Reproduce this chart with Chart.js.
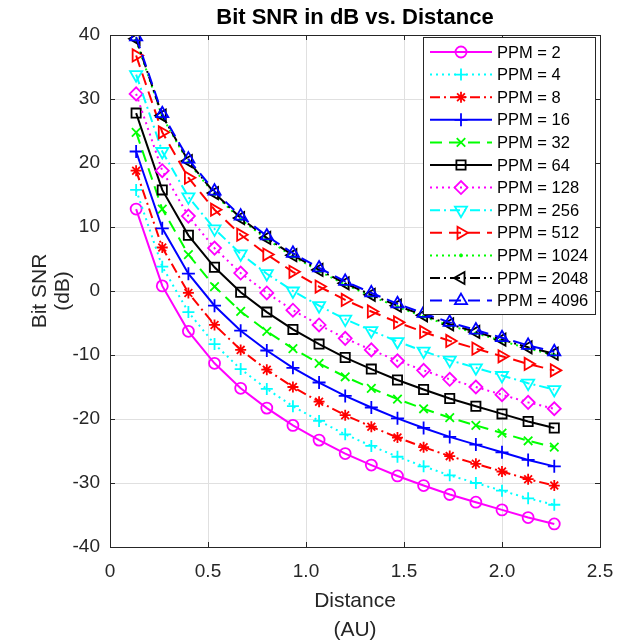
<!DOCTYPE html>
<html>
<head>
<meta charset="utf-8">
<script src="https://cdn.jsdelivr.net/npm/chart.js@4.4.0/dist/chart.umd.min.js"></script>
<style>
  html, body { margin: 0; padding: 0; background: #fff; }
</style>
</head>
<body>
<canvas id="snrChart" width="618" height="643"></canvas>
<script>
// distance in AU
const distance = [0.1333, 0.2667, 0.4, 0.5333, 0.6667, 0.8, 0.9333, 1.0667, 1.2, 1.3333, 1.4667, 1.6, 1.7333, 1.8667, 2.0, 2.1333, 2.2667];

// bit SNR (dB) per PPM order
const ppm2    = [12.8, 0.8, -6.3, -11.3, -15.2, -18.3, -21.0, -23.3, -25.4, -27.2, -28.9, -30.4, -31.8, -33.0, -34.2, -35.4, -36.4];
const ppm4    = [15.8, 3.8, -3.3, -8.3, -12.2, -15.3, -18.0, -20.3, -22.4, -24.2, -25.9, -27.4, -28.8, -30.0, -31.2, -32.4, -33.4];
const ppm8    = [18.8, 6.8, -0.3, -5.3, -9.2, -12.3, -15.0, -17.3, -19.4, -21.2, -22.9, -24.4, -25.8, -27.0, -28.2, -29.4, -30.4];
const ppm16   = [21.8, 9.8, 2.7, -2.3, -6.2, -9.3, -12.0, -14.3, -16.4, -18.2, -19.9, -21.4, -22.8, -24.0, -25.2, -26.4, -27.4];
const ppm32   = [24.8, 12.8, 5.7, 0.7, -3.2, -6.3, -9.0, -11.3, -13.4, -15.2, -16.9, -18.4, -19.8, -21.0, -22.2, -23.4, -24.4];
const ppm64   = [27.8, 15.8, 8.7, 3.7, -0.2, -3.3, -6.0, -8.3, -10.4, -12.2, -13.9, -15.4, -16.8, -18.0, -19.2, -20.4, -21.4];
const ppm128  = [30.8, 18.8, 11.7, 6.7, 2.8, -0.3, -3.0, -5.3, -7.4, -9.2, -10.9, -12.4, -13.8, -15.0, -16.2, -17.4, -18.4];
const ppm256  = [33.8, 21.8, 14.7, 9.7, 5.8, 2.7, 0.0, -2.3, -4.4, -6.2, -7.9, -9.4, -10.8, -12.0, -13.2, -14.4, -15.4];
const ppm512  = [36.8, 24.8, 17.7, 12.7, 8.8, 5.7, 3.0, 0.7, -1.4, -3.2, -4.9, -6.4, -7.8, -9.0, -10.2, -11.4, -12.4];
const ppm1024 = [39.2, 27.2, 20.1, 15.1, 11.2, 8.1, 5.4, 3.1, 1.0, -0.8, -2.5, -4.0, -5.4, -6.6, -7.8, -9.0, -10.0];
const ppm2048 = [39.4, 27.4, 20.3, 15.3, 11.4, 8.3, 5.6, 3.3, 1.2, -0.6, -2.3, -3.8, -5.2, -6.4, -7.6, -8.8, -9.8];
const ppm4096 = [39.7, 27.7, 20.6, 15.6, 11.7, 8.6, 5.9, 3.6, 1.5, -0.3, -2.0, -3.5, -4.9, -6.1, -7.3, -8.5, -9.5];

const seriesLabels = ['PPM = 2', 'PPM = 4', 'PPM = 8', 'PPM = 16', 'PPM = 32', 'PPM = 64',
  'PPM = 128', 'PPM = 256', 'PPM = 512', 'PPM = 1024', 'PPM = 2048', 'PPM = 4096'];
const seriesValues = [ppm2, ppm4, ppm8, ppm16, ppm32, ppm64, ppm128, ppm256, ppm512, ppm1024, ppm2048, ppm4096];

const xTickValues = [0, 0.5, 1, 1.5, 2, 2.5];
const yTickValues = [-40, -30, -20, -10, 0, 10, 20, 30, 40];

// matlab-ish line specs
const DOT = [2, 4], DASH = [12, 7], DASHDOT = [10, 4, 2, 4];
const styles = [
  { color: '#ff00ff', dash: [],      point: 'circle',   rot: 0,   r: 5.5 },
  { color: '#00ffff', dash: DOT,     point: 'cross',    rot: 0,   r: 6 },
  { color: '#ff0000', dash: DASHDOT, point: 'star',     rot: 0,   r: 5.5 },
  { color: '#0000ff', dash: [],      point: 'cross',    rot: 0,   r: 6.5 },
  { color: '#00ff00', dash: DASH,    point: 'crossRot', rot: 0,   r: 6 },
  { color: '#000000', dash: [],      point: 'rect',     rot: 0,   r: 6.5 },
  { color: '#ff00ff', dash: DOT,     point: 'rectRot',  rot: 0,   r: 6.5 },
  { color: '#00ffff', dash: DASHDOT, point: 'triangle', rot: 180, r: 7 },
  { color: '#ff0000', dash: DASH,    point: 'triangle', rot: 90,  r: 7 },
  { color: '#00ff00', dash: DOT,     point: 'circle',   rot: 0,   r: 1.5, fill: true },
  { color: '#000000', dash: DASHDOT, point: 'triangle', rot: -90, r: 7 },
  { color: '#0000ff', dash: DASH,    point: 'triangle', rot: 0,   r: 7 }
];

const FONT = '"Liberation Sans", Arial, Helvetica, sans-serif';
const AXIS_COLOR = '#262626';

const datasets = seriesValues.map((vals, i) => {
  const s = styles[i];
  return {
    label: seriesLabels[i],
    data: vals.map((v, j) => ({ x: distance[j], y: v })),
    borderColor: s.color,
    borderWidth: 2,
    borderDash: s.dash,
    borderCapStyle: 'butt',
    tension: 0,
    fill: false,
    pointStyle: s.point,
    pointRotation: s.rot,
    pointRadius: s.r,
    pointBorderColor: s.color,
    pointBackgroundColor: s.fill ? s.color : 'rgba(0,0,0,0)',
    pointBorderWidth: s.fill ? 1 : 1.8,
    order: seriesValues.length - i   // later series on top, like matlab
  };
});

const matlabFrame = {
  id: 'matlabFrame',
  afterDraw(chart) {
    const ctx = chart.ctx;
    const a = chart.chartArea;
    const xs = chart.scales.x, ys = chart.scales.y;
    ctx.save();

    // axes box and inward ticks
    ctx.strokeStyle = AXIS_COLOR;
    ctx.lineWidth = 1;
    ctx.setLineDash([]);
    ctx.strokeRect(Math.round(a.left) + 0.5, Math.round(a.top) + 0.5,
      Math.round(a.right - a.left), Math.round(a.bottom - a.top));
    ctx.beginPath();
    xTickValues.forEach(v => {
      const px = Math.round(xs.getPixelForValue(v)) + 0.5;
      ctx.moveTo(px, a.bottom); ctx.lineTo(px, a.bottom - 5);
      ctx.moveTo(px, a.top); ctx.lineTo(px, a.top + 5);
    });
    yTickValues.forEach(v => {
      const py = Math.round(ys.getPixelForValue(v)) + 0.5;
      ctx.moveTo(a.left, py); ctx.lineTo(a.left + 5, py);
      ctx.moveTo(a.right, py); ctx.lineTo(a.right - 5, py);
    });
    ctx.stroke();

    // title
    const cx = (a.left + a.right) / 2;
    ctx.fillStyle = '#000';
    ctx.textAlign = 'center';
    ctx.textBaseline = 'middle';
    ctx.font = 'bold 22px ' + FONT;
    ctx.fillText('Bit SNR in dB vs. Distance', cx, 18);

    // axis titles
    ctx.fillStyle = AXIS_COLOR;
    ctx.font = '21px ' + FONT;
    ctx.fillText('Distance', cx, 601);
    ctx.fillText('(AU)', cx, 630);
    const cy = (a.top + a.bottom) / 2;
    ctx.save();
    ctx.translate(40, cy);
    ctx.rotate(-Math.PI / 2);
    ctx.fillText('Bit SNR', 0, 0);
    ctx.restore();
    ctx.save();
    ctx.translate(63, cy);
    ctx.rotate(-Math.PI / 2);
    ctx.fillText('(dB)', 0, 0);
    ctx.restore();

    // legend
    const lx = 423, ly = 37, lw = 172, lh = 277;
    ctx.fillStyle = '#fff';
    ctx.fillRect(lx, ly, lw, lh);
    ctx.strokeStyle = AXIS_COLOR;
    ctx.strokeRect(lx + 0.5, ly + 0.5, lw, lh);
    chart.data.datasets.forEach((ds, i) => {
      const y = 52 + i * 22.6;
      ctx.save();
      ctx.strokeStyle = ds.borderColor;
      ctx.lineWidth = ds.borderWidth;
      ctx.lineCap = 'butt';
      ctx.setLineDash(ds.borderDash);
      ctx.beginPath();
      ctx.moveTo(430, y);
      ctx.lineTo(492, y);
      ctx.stroke();
      ctx.setLineDash([]);
      ctx.lineWidth = ds.pointBorderWidth;
      ctx.fillStyle = ds.pointBackgroundColor;
      Chart.helpers.drawPoint(ctx, {
        pointStyle: ds.pointStyle,
        rotation: ds.pointRotation,
        radius: ds.pointRadius,
        borderWidth: ds.pointBorderWidth
      }, 461, y);
      ctx.restore();
      ctx.fillStyle = '#000';
      ctx.textAlign = 'left';
      ctx.textBaseline = 'middle';
      ctx.font = '16.5px ' + FONT;
      ctx.fillText(ds.label, 497, y + 1);
    });
    ctx.restore();
  }
};

new Chart(document.getElementById('snrChart').getContext('2d'), {
  type: 'line',
  data: { datasets: datasets },
  options: {
    responsive: false,
    animation: false,
    devicePixelRatio: 1,
    layout: { padding: { left: 0, right: 18, top: 35, bottom: 0 } },
    plugins: {
      legend: { display: false },
      tooltip: { enabled: false },
      title: { display: false }
    },
    scales: {
      x: {
        type: 'linear',
        min: 0,
        max: 2.5,
        afterFit: s => { s.height = 96; s.paddingLeft = 0; s.paddingRight = 0; },
        afterBuildTicks: s => { s.ticks = xTickValues.map(v => ({ value: v })); },
        ticks: { color: AXIS_COLOR, font: { family: FONT, size: 19 }, padding: 13, maxRotation: 0, autoSkip: false },
        grid: { color: '#e0e0e0', drawTicks: false },
        border: { display: false }
      },
      y: {
        type: 'linear',
        min: -40,
        max: 40,
        afterFit: s => { s.width = 110; s.paddingTop = 0; s.paddingBottom = 0; },
        afterBuildTicks: s => { s.ticks = yTickValues.map(v => ({ value: v })); },
        ticks: { color: AXIS_COLOR, font: { family: FONT, size: 19 }, padding: 10, autoSkip: false },
        grid: { color: '#e0e0e0', drawTicks: false },
        border: { display: false }
      }
    }
  },
  plugins: [matlabFrame]
});
</script>
</body>
</html>
